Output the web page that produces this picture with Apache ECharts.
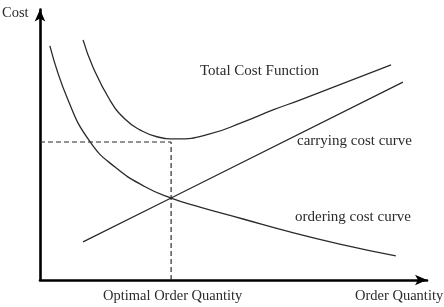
<!DOCTYPE html>
<html>
<head>
<meta charset="utf-8">
<script src="https://cdn.jsdelivr.net/npm/echarts@6/dist/echarts.min.js"></script>
<style>
  html, body { margin: 0; padding: 0; background: #fff; }
  #main { width: 444px; height: 307px; }
</style>
</head>
<body>
<div id="main"></div>
<script>
// values (order quantity, cost)
var totalCost = [
  [10.9, 87.0], [13.4, 77.2], [17.7, 65.2], [21.5, 58.3], [25.3, 54.4],
  [29.6, 51.9], [34.5, 51.1], [43.0, 52.9], [51.4, 57.2],
  [59.0, 61.6], [65.8, 65.2], [88.9, 77.9]
];
var orderingCost = [
  [2.5, 84.8], [7.1, 65.2], [12.7, 50.0], [19.0, 40.9], [26.6, 33.8],
  [33.2, 29.7], [40.5, 26.4], [51.4, 22.1], [63.3, 17.4],
  [75.9, 13.0], [90.1, 8.7]
];
var carryingCost = [[10.9, 13.8], [33.2, 29.7], [91.9, 71.7]];
var optimalQ = 33.2;
var optimalCost = 50.0;

var ink = '#2b2b2b';
var serif = '"Liberation Serif", "DejaVu Serif", serif';
var font = '14.5px ' + serif;
var curveFont = '15px ' + serif;

var chart = echarts.init(document.getElementById('main'));

function curve(name, data, smooth) {
  return {
    name: name, type: 'line', data: data, smooth: smooth,
    showSymbol: false, silent: true,
    lineStyle: { color: ink, width: 1.3 }
  };
}
function dashed(name, data) {
  return {
    name: name, type: 'line', data: data, showSymbol: false, silent: true,
    lineStyle: { color: ink, width: 1.2, type: [5, 3] }
  };
}

var axisBase = {
  type: 'value', min: 0, max: 98,
  splitLine: { show: false },
  axisTick: { show: false },
  axisLabel: { show: false },
  axisLine: {
    show: true, onZero: false,
    lineStyle: { color: '#000', width: 2.6 },
    symbol: ['none', 'arrow'], symbolSize: [8, 12]
  }
};

chart.setOption({
  animation: false,
  backgroundColor: '#fff',
  grid: { left: 40, right: 17, top: 9.5, bottom: 27, outerBoundsMode: 'none' },
  xAxis: axisBase,
  yAxis: axisBase,
  series: [
    curve('Total Cost Function', totalCost, 0.5),
    curve('ordering cost curve', orderingCost, 0.5),
    curve('carrying cost curve', carryingCost, false),
    dashed('optimal cost', [[0, optimalCost], [optimalQ, optimalCost]]),
    dashed('optimal quantity', [[optimalQ, 0], [optimalQ, optimalCost]])
  ],
  graphic: [
    { type: 'text', left: 2, top: 6, style: { text: 'Cost', font: font, fill: ink } },
    { type: 'text', left: 200, top: 64, style: { text: 'Total Cost Function', font: curveFont, fill: ink } },
    { type: 'text', left: 297, top: 134, style: { text: 'carrying cost curve', font: curveFont, fill: ink } },
    { type: 'text', left: 295, top: 210, style: { text: 'ordering cost curve', font: curveFont, fill: ink } },
    { type: 'text', left: 103, top: 289, style: { text: 'Optimal Order Quantity', font: font, fill: ink } },
    { type: 'text', left: 355, top: 289, style: { text: 'Order Quantity', font: font, fill: ink } }
  ]
});
</script>
</body>
</html>
